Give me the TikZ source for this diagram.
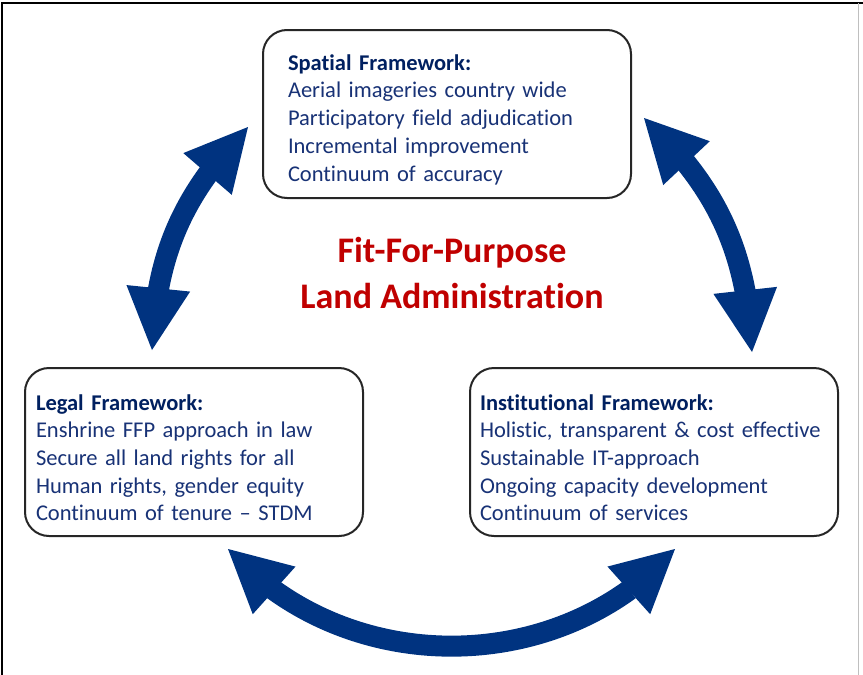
\documentclass[tikz,border=0pt]{standalone}
\usepackage{fontspec}
\setmainfont[Ligatures={TeX,NoCommon}]{Carlito}
\usepackage{xcolor}
\usepackage{tikz}
\usetikzlibrary{arrows.meta,bending}

\definecolor{ffpblue}{RGB}{0,51,128}
\definecolor{ffpnavy}{RGB}{0,32,96}
\definecolor{ffptext}{RGB}{24,50,118}
\definecolor{ffpred}{RGB}{192,0,0}
\newcommand{\boxhead}[1]{\rule{0pt}{27pt}\textbf{\color{ffpnavy}#1}}

\begin{document}
\begin{tikzpicture}[x=1pt,y=-1pt,>={Triangle[length=62pt,width=64pt,line width=0pt]},
  frame/.style={draw=black!85,line width=2pt,rounded corners=24pt,fill=white,
    minimum height=168pt,inner ysep=0pt,align=left,text=ffptext,
    font=\fontsize{22.5}{27.7}\selectfont},
  cyclearrow/.style={<->,ffpblue,line width=21pt}]
  \useasboundingbox (0,0) rectangle (863,675);
  \draw[black,line width=1.5pt] (2,675) -- (2,3) -- (863,3);
  \draw[black!25,line width=1pt] (858,3) -- (858,675);

  % the three frameworks
  \node[frame,text width=318pt,inner xsep=25pt] (spatial) at (447,114) {\boxhead{Spatial Framework:}\\Aerial imageries country wide\\Participatory field adjudication\\Incremental improvement\\Continuum of accuracy};
  \node[frame,text width=316pt,inner xsep=11pt] (legal) at (194,452) {\boxhead{Legal Framework:}\\Enshrine FFP approach in law\\Secure all land rights for all\\Human rights, gender equity\\Continuum of tenure -- STDM};
  \node[frame,text width=348pt,inner xsep=10pt] (institutional) at (654,452) {\boxhead{Institutional Framework:}\\Holistic, transparent \& cost effective\\Sustainable IT-approach\\Ongoing capacity development\\Continuum of services};

  \node[font=\bfseries\fontsize{36}{46}\selectfont,text=ffpred,align=center] (title) at (452,273) {Fit-For-Purpose\\Land Administration};

  % arrow tips
  \coordinate (lt) at (248,127);
  \coordinate (lb) at (152,350);
  \coordinate (rt) at (644,118);
  \coordinate (rb) at (752,352);
  \coordinate (bl) at (228,549);
  \coordinate (br) at (675,549);

  \draw[cyclearrow] (lb) to[bend left=21] (lt);
  \draw[cyclearrow] (rt) to[bend left=22] (rb);
  \draw[cyclearrow] (bl) to[bend right=48] (br);
\end{tikzpicture}
\end{document}
